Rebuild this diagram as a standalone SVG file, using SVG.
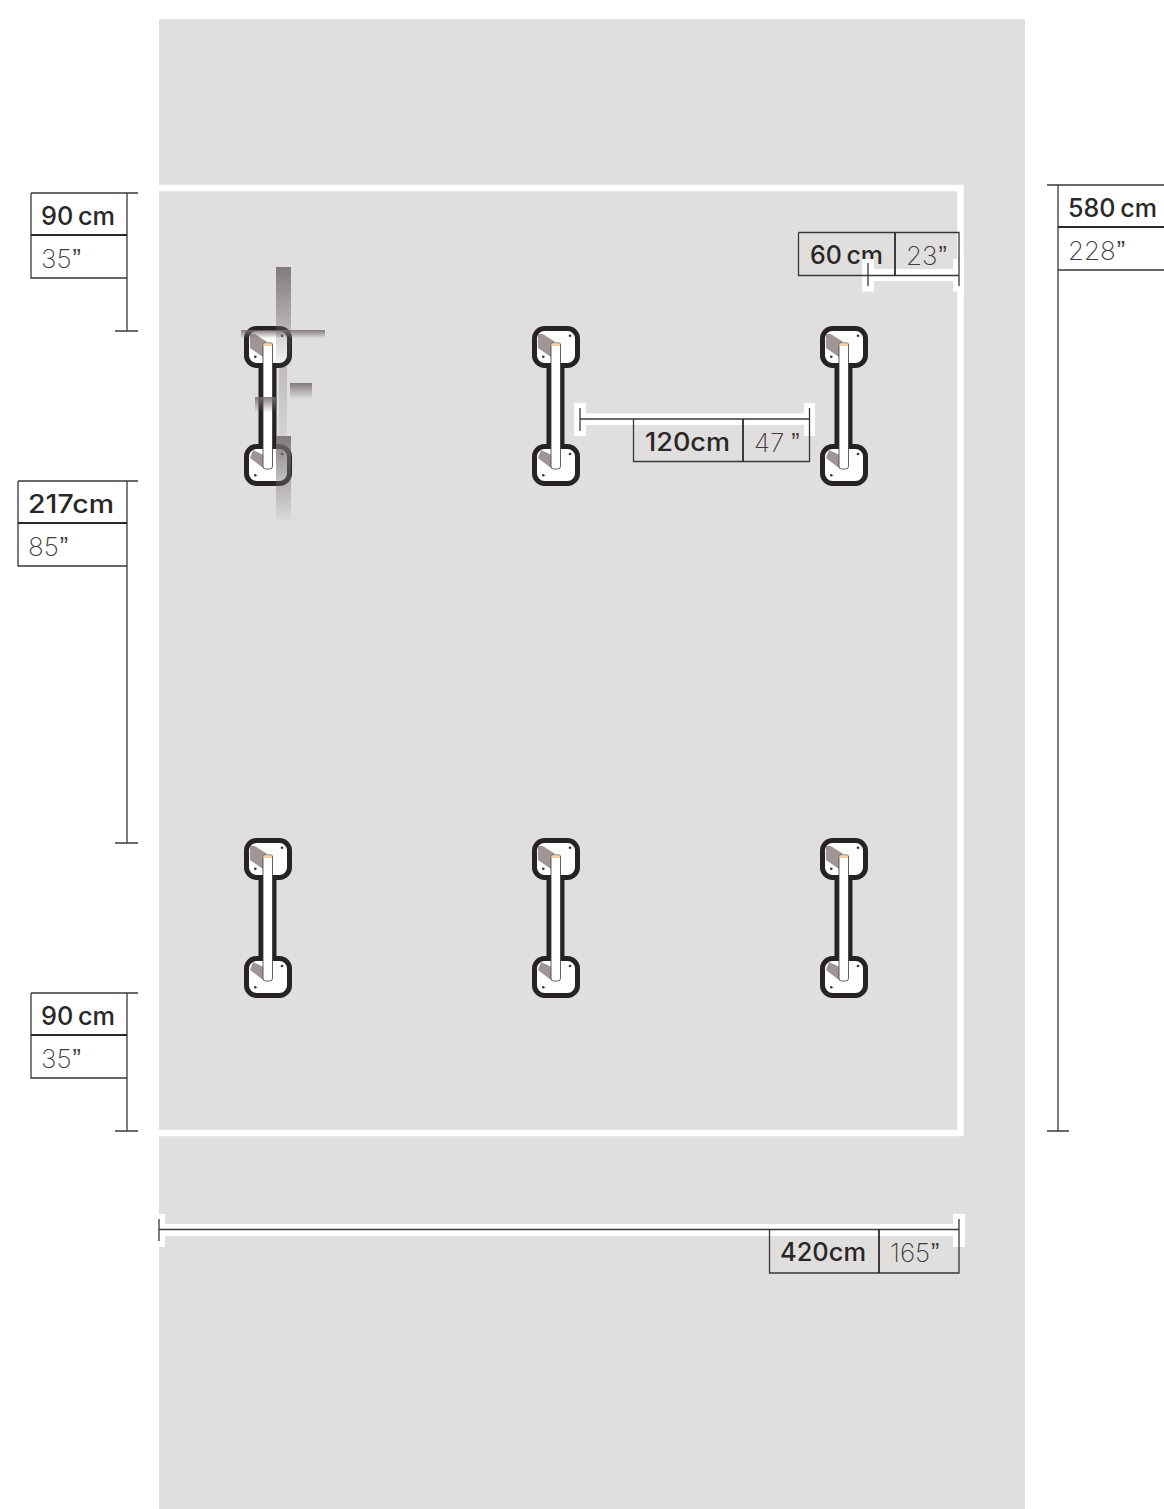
<svg xmlns="http://www.w3.org/2000/svg" width="1164" height="1509" viewBox="0 0 1164 1509">
<style>
.cm{font-family:"Inter","Liberation Sans",sans-serif;font-size:25px;font-weight:500;fill:#2a2727;word-spacing:-2px}
.in{font-family:"Inter","Liberation Sans",sans-serif;font-size:26px;font-weight:200;fill:#3f3c3c}
.q{font-family:"Liberation Sans",sans-serif;font-size:25px;font-weight:400}
.ln{stroke:#3a3737;stroke-width:1.3;fill:none}
.dv{stroke:#2b2828;stroke-width:1.8;fill:none}
.wh{fill:#fff}
.pad{fill:#fff;stroke:#272323;stroke-width:5}
.sh{fill:#9f9595}
.dot{fill:#333}
</style>
<defs>
<linearGradient id="g" x1="0" y1="0" x2="0" y2="1"><stop offset="0" stop-color="#756e6e" stop-opacity=".88"/><stop offset="1" stop-color="#756e6e" stop-opacity=".05"/></linearGradient>
<linearGradient id="g2" x1="0" y1="0" x2="0" y2="1"><stop offset="0" stop-color="#756e6e" stop-opacity=".3"/><stop offset="1" stop-color="#756e6e" stop-opacity=".1"/></linearGradient>
<g id="fixture">
<rect x="246.500" y="328.500" width="43" height="37" rx="10" class="pad"/>
<rect x="246.500" y="446.500" width="43" height="37" rx="10" class="pad"/>
<polygon class="sh" points="250,334 254.700,334 267,341.700 263,344 263,357 250,348"/>
<polygon class="sh" points="250,458 253,450 263,454.700 263,468"/>
<circle class="dot" cx="282" cy="335.700" r="1.300"/>
<circle class="dot" cx="255.300" cy="356.700" r="1.300"/>
<circle class="dot" cx="282" cy="454" r="1.300"/>
<circle class="dot" cx="255.300" cy="475.300" r="1.300"/>
<rect x="258.500" y="363" width="18" height="85" fill="#272323"/>
<path d="M263 344.500Q263 343 264.500 343H271Q272.500 343 272.500 344.500V466Q272.500 469 270 469H265.500Q263 469 263 466Z" fill="#fff" stroke="#3a3535" stroke-width=".8"/>
<rect x="263.500" y="343.500" width="8.500" height="2.500" fill="#f3d3a0"/>
</g>
</defs>

<rect id="ground" x="159" y="19" width="866" height="1490" fill="#e0dfdd"/>
<path id="frame" d="M159 188H960.500V1133H159" fill="none" stroke="#fff" stroke-width="6.500"/>

<g id="node-1"><use href="#fixture"/>
<rect x="276" y="267" width="15" height="100" fill="url(#g)"/>
<rect x="279" y="367" width="8" height="69" fill="url(#g2)"/>
<rect x="276" y="436" width="15" height="84" fill="url(#g)"/>
<rect x="241" y="330" width="84" height="8" fill="url(#g)"/>
<rect x="290" y="383" width="22" height="15" fill="url(#g)"/>
<rect x="255" y="397" width="22" height="15" fill="url(#g)"/>
</g>
<g id="node-2"><use href="#fixture" x="288"/></g>
<g id="node-3"><use href="#fixture" x="576"/></g>
<g id="node-4"><use href="#fixture" y="512"/></g>
<g id="node-5"><use href="#fixture" x="288" y="512"/></g>
<g id="node-6"><use href="#fixture" x="576" y="512"/></g>

<g id="labels">
<text class="cm" x="41" y="225" textLength="74" lengthAdjust="spacingAndGlyphs">90 cm</text><text class="in" x="41" y="268">35<tspan class="q" dx="1" dy="-1">”</tspan></text>
<text class="cm" x="28" y="513" textLength="86" lengthAdjust="spacingAndGlyphs">217cm</text><text class="in" x="28" y="556">85<tspan class="q" dx="1" dy="-1">”</tspan></text>
<text class="cm" x="41" y="1025" textLength="74" lengthAdjust="spacingAndGlyphs">90 cm</text><text class="in" x="41" y="1068">35<tspan class="q" dx="1" dy="-1">”</tspan></text>
<text class="cm" x="1068" y="217" textLength="89" lengthAdjust="spacingAndGlyphs">580 cm</text><text class="in" x="1068" y="260">228<tspan class="q" dx="1" dy="-1">”</tspan></text>
<text class="cm" x="810" y="264" textLength="73" lengthAdjust="spacingAndGlyphs">60 cm</text><text class="in" x="906" y="265">23<tspan class="q" dx="1" dy="-1">”</tspan></text>
<text class="cm" x="645" y="451" textLength="85" lengthAdjust="spacingAndGlyphs">120cm</text><text class="in" x="754" y="452">47<tspan class="q" dx="7" dy="-1">”</tspan></text>
<text class="cm" x="780" y="1261" textLength="86" lengthAdjust="spacingAndGlyphs">420cm</text><text class="in" x="890" y="1262">165<tspan class="q" dx="1" dy="-1">”</tspan></text>
</g>

<g id="connectors">
<path class="wh" d="M862 259H874V269H953V259H964V291.500H953V281H874V291.500H862Z"/>
<path class="wh" d="M574 403H586V413.500H804V403H815V436H804V425H586V436H574Z"/>
<path class="wh" d="M159 1214H165V1224H953V1214H965V1247H953V1236H165V1247H159Z"/>

<path class="ln" d="M31 193H138M31 193V278H127M115 331H138M127 193V331"/>
<path class="dv" d="M31 235H127"/>
<path class="ln" d="M18 481H138M18 481V566H127M127 481V843M115 843H138"/>
<path class="dv" d="M18 523H127"/>
<path class="ln" d="M31 993H138M31 993V1078H127M127 993V1131M115 1131H138"/>
<path class="dv" d="M31 1035H127"/>
<path class="ln" d="M1047 185H1164M1058 185V1131M1047 1131H1069M1058 270H1164"/>
<path class="dv" d="M1058 227H1164"/>
<path class="ln" d="M798.500 232.500H959V286M798.500 232.500V275.500H959M868 263V286"/>
<path class="dv" d="M895 232.500V275.500"/>
<path class="ln" d="M580 408V431M580 419H809.500M809.500 408V461.500H633.500V419"/>
<path class="dv" d="M743 419V461.500"/>
<path class="ln" d="M159 1219V1241M159 1229.500H959M959 1219V1273H769.500V1229.500"/>
<path class="dv" d="M879 1229.500V1273"/>
</g>
</svg>
